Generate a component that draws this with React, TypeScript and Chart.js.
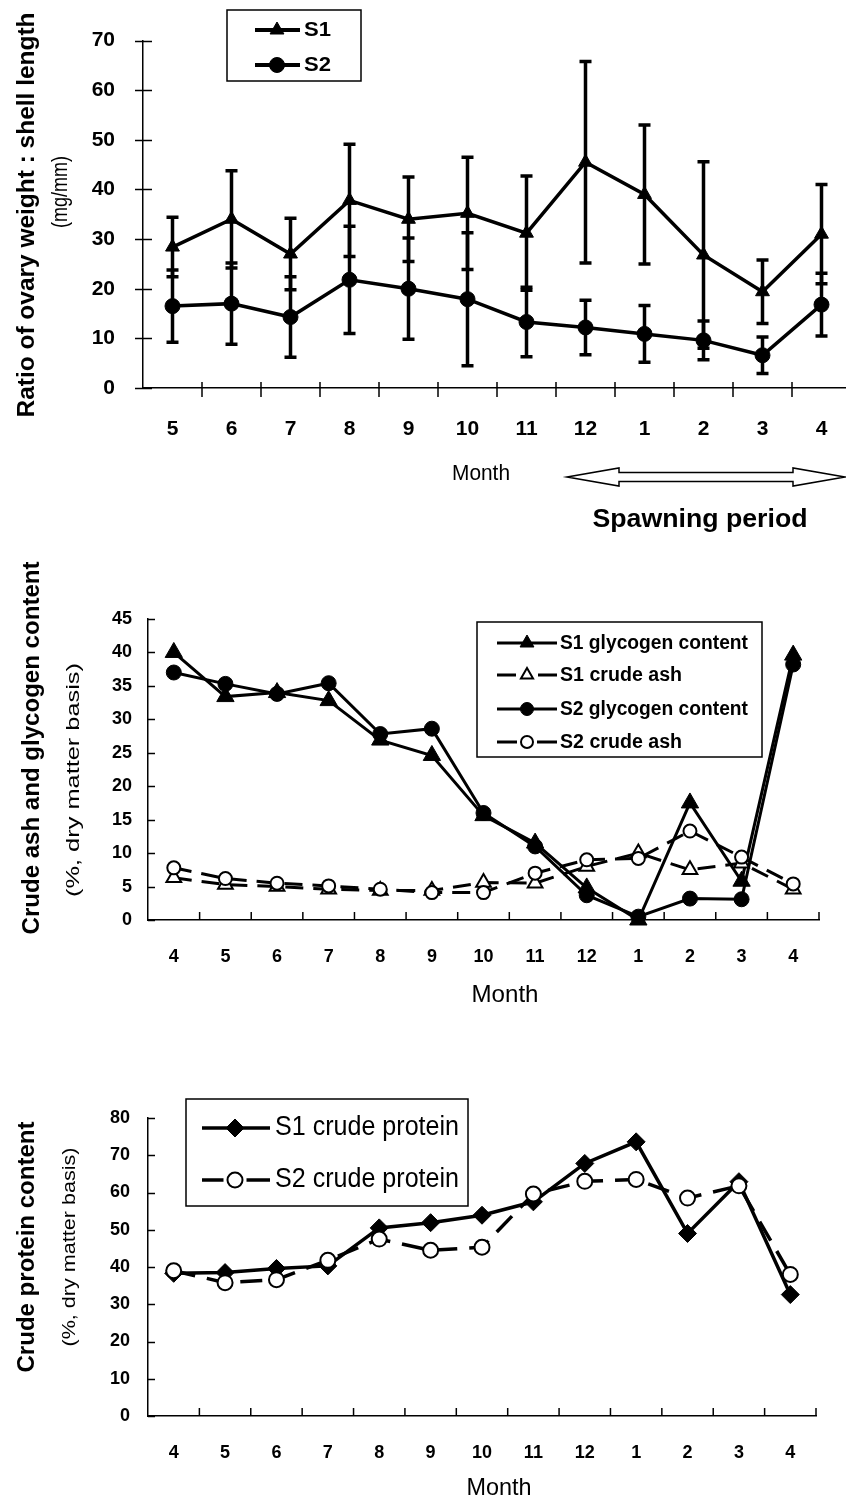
import React, { useEffect, useRef } from "react";
import { Chart, registerables } from "chart.js";

Chart.register(...registerables);

// ---------- DATA ----------
const monthsRatio = ["5", "6", "7", "8", "9", "10", "11", "12", "1", "2", "3", "4"];
const s1Ratio = [28.4, 34, 27, 37.8, 34, 35.2, 31.2, 45.5, 39, 26.8, 19.4, 31];
const s1RatioErr = [6, 9.8, 7.2, 11.3, 8.5, 11.3, 11.5, 20.3, 14, 18.8, 6.4, 10];
const s2Ratio = [16.5, 17, 14.3, 21.8, 20, 17.9, 13.3, 12.2, 10.9, 9.6, 6.6, 16.8];
const s2RatioErr = [7.3, 8.2, 8.1, 10.8, 10.2, 13.4, 7, 5.5, 5.7, 3.9, 3.7, 6.3];

const monthsYear = ["4", "5", "6", "7", "8", "9", "10", "11", "12", "1", "2", "3", "4"];
const s1Glycogen = [40, 33.4, 34, 32.8, 26.9, 24.6, 15.6, 11.5, 4.8, 0, 17.5, 5.8, 39.6];
const s1Ash = [6.3, 5.3, 5, 4.6, 4.4, 4.4, 5.6, 5.5, 8, 10, 7.5, 8.5, 4.6];
const s2Glycogen = [37, 35.3, 33.8, 35.4, 27.8, 28.6, 16, 11, 3.7, 0.5, 3.2, 3.1, 38.2];
const s2Ash = [7.8, 6.2, 5.5, 5.1, 4.6, 4.1, 4.1, 7, 9, 9.2, 13.3, 9.4, 5.4];

const s1Protein = [38.3, 38.5, 39.6, 40.3, 50.5, 51.9, 53.9, 57.5, 67.8, 73.6, 49, 62.9, 32.6];
const s2Protein = [39, 35.8, 36.6, 41.8, 47.5, 44.5, 45.3, 59.6, 63, 63.5, 58.5, 61.8, 38];

// ---------- FONTS ----------
const ARIAL = '"Liberation Sans", Arial, sans-serif';

// ---------- DRAW HELPERS ----------
type Txt = { text: string; x: number; y: number; font: string; width?: number; rot?: number; align?: CanvasTextAlign };

function drawText(ctx: CanvasRenderingContext2D, t: Txt) {
  ctx.save();
  ctx.translate(t.x, t.y);
  if (t.rot) ctx.rotate(t.rot);
  ctx.font = t.font;
  ctx.fillStyle = "#000";
  ctx.textBaseline = "middle";
  ctx.textAlign = t.align || "center";
  if (t.width) {
    const w = ctx.measureText(t.text).width;
    ctx.scale(t.width / w, 1);
  }
  ctx.fillText(t.text, 0, 0);
  ctx.restore();
}

function drawMarker(ctx: CanvasRenderingContext2D, style: string, x: number, y: number, r: number, fill: string, lw: number) {
  ctx.save();
  ctx.setLineDash([]);
  ctx.beginPath();
  if (style === "circle") {
    ctx.arc(x, y, r, 0, Math.PI * 2);
  } else if (style === "triangle") {
    for (let k = 0; k < 3; k++) {
      const a = (k * 2 * Math.PI) / 3;
      const px = x + Math.sin(a) * r;
      const py = y - Math.cos(a) * r;
      if (k === 0) ctx.moveTo(px, py);
      else ctx.lineTo(px, py);
    }
    ctx.closePath();
  } else {
    ctx.moveTo(x - r, y);
    ctx.lineTo(x, y - r);
    ctx.lineTo(x + r, y);
    ctx.lineTo(x, y + r);
    ctx.closePath();
  }
  ctx.fillStyle = fill;
  ctx.fill();
  ctx.lineWidth = lw;
  ctx.strokeStyle = "#000";
  ctx.stroke();
  ctx.restore();
}

type LegendItem = { label: string; y: number; dashed: boolean; style: string; fill: string; r: number; lw: number; mlw: number; tw: number };
type LegendSpec = { x: number; y: number; w: number; h: number; lineX1: number; lineX2: number; markX: number; textX: number; font: string; items: LegendItem[] };

function drawLegend(ctx: CanvasRenderingContext2D, L: LegendSpec) {
  ctx.save();
  ctx.fillStyle = "#fff";
  ctx.fillRect(L.x, L.y, L.w, L.h);
  ctx.strokeStyle = "#000";
  ctx.lineWidth = 1.5;
  ctx.strokeRect(L.x, L.y, L.w, L.h);
  for (const it of L.items) {
    ctx.beginPath();
    ctx.lineWidth = it.lw;
    if (it.dashed) {
      ctx.moveTo(L.lineX1, it.y);
      ctx.lineTo(L.markX - it.r - 4, it.y);
      ctx.moveTo(L.markX + it.r + 4, it.y);
      ctx.lineTo(L.lineX2, it.y);
    } else {
      ctx.moveTo(L.lineX1, it.y);
      ctx.lineTo(L.lineX2, it.y);
    }
    ctx.stroke();
    drawMarker(ctx, it.style, L.markX, it.y, it.r, it.fill, it.mlw);
    drawText(ctx, { text: it.label, x: L.textX, y: it.y, font: L.font, width: it.tw, align: "left" });
  }
  ctx.restore();
}

function drawYTicks(chart: any, outLen: number, inLen: number) {
  const ctx = chart.ctx as CanvasRenderingContext2D;
  const ys = chart.scales.y;
  const x0 = chart.chartArea.left;
  ctx.save();
  ctx.strokeStyle = "#000";
  ctx.lineWidth = 1.5;
  for (const t of ys.ticks) {
    const py = Math.round(ys.getPixelForValue(t.value)) + 0.5;
    ctx.beginPath();
    ctx.moveTo(x0 - outLen, py);
    ctx.lineTo(x0 + inLen, py);
    ctx.stroke();
  }
  ctx.restore();
}

function drawXTicks(chart: any, upLen: number, downLen: number) {
  const ctx = chart.ctx as CanvasRenderingContext2D;
  const xs = chart.scales.x;
  const yb = chart.chartArea.bottom;
  const n = xs.ticks.length;
  ctx.save();
  ctx.strokeStyle = "#000";
  ctx.lineWidth = 1.5;
  for (let i = 1; i <= n; i++) {
    const a = xs.getPixelForValue(i - 1);
    const px = i < n ? (a + xs.getPixelForValue(i)) / 2 : xs.right;
    ctx.beginPath();
    ctx.moveTo(px, yb - upLen);
    ctx.lineTo(px, yb + downLen);
    ctx.stroke();
  }
  ctx.restore();
}

function drawErrorBars(chart: any, di: number, vals: number[], errs: number[]) {
  const ctx = chart.ctx as CanvasRenderingContext2D;
  const ys = chart.scales.y;
  const meta = chart.getDatasetMeta(di);
  ctx.save();
  ctx.strokeStyle = "#000";
  ctx.lineWidth = 3.5;
  ctx.setLineDash([]);
  meta.data.forEach((pt: any, i: number) => {
    const x = pt.x;
    const yT = ys.getPixelForValue(vals[i] + errs[i]);
    const yB = ys.getPixelForValue(Math.max(0, vals[i] - errs[i]));
    ctx.beginPath();
    ctx.moveTo(x, yT);
    ctx.lineTo(x, yB);
    ctx.moveTo(x - 6, yT);
    ctx.lineTo(x + 6, yT);
    ctx.moveTo(x - 6, yB);
    ctx.lineTo(x + 6, yB);
    ctx.stroke();
  });
  ctx.restore();
}

function drawDoubleArrow(ctx: CanvasRenderingContext2D, x1: number, x2: number, y: number, hl: number, hh: number, sh: number) {
  ctx.save();
  ctx.beginPath();
  ctx.moveTo(x1, y);
  ctx.lineTo(x1 + hl, y - hh);
  ctx.lineTo(x1 + hl, y - sh);
  ctx.lineTo(x2 - hl, y - sh);
  ctx.lineTo(x2 - hl, y - hh);
  ctx.lineTo(x2, y);
  ctx.lineTo(x2 - hl, y + hh);
  ctx.lineTo(x2 - hl, y + sh);
  ctx.lineTo(x1 + hl, y + sh);
  ctx.lineTo(x1 + hl, y + hh);
  ctx.closePath();
  ctx.fillStyle = "#fff";
  ctx.fill();
  ctx.strokeStyle = "#000";
  ctx.lineWidth = 1.5;
  ctx.stroke();
  ctx.restore();
}

// ---------- OPTIONS ----------
function baseOptions(o: {
  yMax: number; step: number; yFont: any; xFont: any; yPad: number; xPad: number; yWidth: number; xHeight: number; padding: any;
}) {
  return {
    responsive: false,
    animation: false as const,
    events: [] as any[],
    layout: { padding: o.padding },
    plugins: { legend: { display: false }, tooltip: { enabled: false } },
    scales: {
      x: {
        type: "category" as const,
        offset: true,
        grid: { display: false, drawTicks: false },
        border: { display: true, color: "#000", width: 1.5 },
        ticks: { color: "#000", font: o.xFont, padding: o.xPad, maxRotation: 0, autoSkip: false },
        afterFit: (s: any) => { s.height = o.xHeight; },
      },
      y: {
        type: "linear" as const,
        min: 0,
        max: o.yMax,
        grid: { display: false, drawTicks: false },
        border: { display: true, color: "#000", width: 1.5 },
        ticks: { color: "#000", font: o.yFont, padding: o.yPad, stepSize: o.step },
        afterFit: (s: any) => { s.width = o.yWidth; },
      },
    },
  };
}

function lineDs(label: string, data: number[], style: string, r: number, fill: string, lw: number, dash: number[], mlw: number, order: number) {
  return {
    label,
    data,
    borderColor: "#000",
    backgroundColor: fill,
    borderWidth: lw,
    borderDash: dash,
    pointStyle: style,
    pointRadius: r,
    pointBackgroundColor: fill,
    pointBorderColor: "#000",
    pointBorderWidth: mlw,
    tension: 0,
    clip: false,
    order,
  };
}

// ---------- CHART CONFIGS ----------
function configRatio(): any {
  return {
    type: "line",
    data: {
      labels: monthsRatio,
      datasets: [
        lineDs("S1", s1Ratio, "triangle", 8, "#000", 3.5, [], 1, 0),
        lineDs("S2", s2Ratio, "circle", 7.5, "#000", 3.5, [], 1, 1),
      ],
    },
    options: baseOptions({
      yMax: 70, step: 10,
      yFont: { family: ARIAL, size: 21, weight: "bold" },
      xFont: { family: ARIAL, size: 21, weight: "bold" },
      yPad: 28, xPad: 29, yWidth: 143, xHeight: 152,
      padding: { top: 17, right: 7, left: 0, bottom: 0 },
    }),
    plugins: [
      {
        id: "decorRatio",
        afterDatasetsDraw(chart: any) {
          drawErrorBars(chart, 0, s1Ratio, s1RatioErr);
          drawErrorBars(chart, 1, s2Ratio, s2RatioErr);
        },
        afterDraw(chart: any) {
          const ctx = chart.ctx;
          drawYTicks(chart, 8, 9);
          drawXTicks(chart, 6, 9);
          drawText(ctx, { text: "Ratio of ovary weight : shell length", x: 27, y: 215, font: `bold 24px ${ARIAL}`, width: 405, rot: -Math.PI / 2 });
          drawText(ctx, { text: "(mg/mm)", x: 61, y: 192, font: `22px ${ARIAL}`, width: 72, rot: -Math.PI / 2 });
          drawText(ctx, { text: "Month", x: 481, y: 474, font: `22px ${ARIAL}`, width: 58 });
          drawDoubleArrow(ctx, 567, 845, 477, 52, 9, 4.5);
          drawText(ctx, { text: "Spawning period", x: 700, y: 520, font: `bold 26px ${ARIAL}`, width: 215 });
          drawLegend(ctx, {
            x: 227, y: 10, w: 134, h: 71, lineX1: 255, lineX2: 300, markX: 277, textX: 304,
            font: `bold 21px ${ARIAL}`,
            items: [
              { label: "S1", y: 30, dashed: false, style: "triangle", fill: "#000", r: 8, lw: 4, mlw: 1, tw: 27 },
              { label: "S2", y: 65, dashed: false, style: "circle", fill: "#000", r: 7.5, lw: 4, mlw: 1, tw: 27 },
            ],
          });
        },
      },
    ],
  };
}

function configAsh(): any {
  return {
    type: "line",
    data: {
      labels: monthsYear,
      datasets: [
        lineDs("S1 glycogen content", s1Glycogen, "triangle", 10, "#000", 3, [], 1, 2),
        lineDs("S1 crude ash", s1Ash, "triangle", 8.5, "#fff", 3, [18, 10], 2, 1),
        lineDs("S2 glycogen content", s2Glycogen, "circle", 7.5, "#000", 3, [], 1, 2),
        lineDs("S2 crude ash", s2Ash, "circle", 6.5, "#fff", 3, [18, 10], 2, 0),
      ],
    },
    options: baseOptions({
      yMax: 45, step: 5,
      yFont: { family: ARIAL, size: 18, weight: "bold" },
      xFont: { family: ARIAL, size: 18, weight: "bold" },
      yPad: 16, xPad: 26, yWidth: 148, xHeight: 100,
      padding: { top: 79, right: 27, left: 0, bottom: 0 },
    }),
    plugins: [
      {
        id: "decorAsh",
        afterDraw(chart: any) {
          const ctx = chart.ctx;
          drawYTicks(chart, 0, 7);
          drawXTicks(chart, 8, 0);
          drawText(ctx, { text: "Crude ash and glycogen content", x: 32, y: 208, font: `bold 24px ${ARIAL}`, width: 373, rot: -Math.PI / 2 });
          drawText(ctx, { text: "(%, dry matter basis)", x: 74, y: 240, font: `19px ${ARIAL}`, width: 234, rot: -Math.PI / 2 });
          drawText(ctx, { text: "Month", x: 505, y: 455, font: `24px ${ARIAL}`, width: 67 });
          drawLegend(ctx, {
            x: 477, y: 82, w: 285, h: 135, lineX1: 497, lineX2: 557, markX: 527, textX: 560,
            font: `bold 20px ${ARIAL}`,
            items: [
              { label: "S1 glycogen content", y: 103, dashed: false, style: "triangle", fill: "#000", r: 8, lw: 3, mlw: 1, tw: 188 },
              { label: "S1 crude ash", y: 135, dashed: true, style: "triangle", fill: "#fff", r: 7, lw: 3, mlw: 2, tw: 122 },
              { label: "S2 glycogen content", y: 169, dashed: false, style: "circle", fill: "#000", r: 6.5, lw: 3, mlw: 1, tw: 188 },
              { label: "S2 crude ash", y: 202, dashed: true, style: "circle", fill: "#fff", r: 6, lw: 3, mlw: 2, tw: 122 },
            ],
          });
        },
      },
    ],
  };
}

function configProtein(): any {
  return {
    type: "line",
    data: {
      labels: monthsYear,
      datasets: [
        lineDs("S1 crude protein", s1Protein, "rectRot", 9, "#000", 3.5, [], 1, 1),
        lineDs("S2 crude protein", s2Protein, "circle", 7.5, "#fff", 3.5, [22, 12], 2, 0),
      ],
    },
    options: baseOptions({
      yMax: 80, step: 10,
      yFont: { family: ARIAL, size: 18, weight: "bold" },
      xFont: { family: ARIAL, size: 18, weight: "bold" },
      yPad: 18, xPad: 26, yWidth: 148, xHeight: 87,
      padding: { top: 98, right: 30, left: 0, bottom: 0 },
    }),
    plugins: [
      {
        id: "decorProtein",
        afterDraw(chart: any) {
          const ctx = chart.ctx;
          drawYTicks(chart, 0, 7);
          drawXTicks(chart, 8, 0);
          drawText(ctx, { text: "Crude protein content", x: 27, y: 227, font: `bold 24px ${ARIAL}`, width: 251, rot: -Math.PI / 2 });
          drawText(ctx, { text: "(%, dry matter basis)", x: 70, y: 227, font: `18px ${ARIAL}`, width: 199, rot: -Math.PI / 2 });
          drawText(ctx, { text: "Month", x: 499, y: 468, font: `24px ${ARIAL}`, width: 65 });
          drawLegend(ctx, {
            x: 186, y: 79, w: 282, h: 107, lineX1: 202, lineX2: 270, markX: 235, textX: 275,
            font: `27px ${ARIAL}`,
            items: [
              { label: "S1 crude protein", y: 108, dashed: false, style: "rectRot", fill: "#000", r: 9, lw: 3.5, mlw: 1, tw: 184 },
              { label: "S2 crude protein", y: 160, dashed: true, style: "circle", fill: "#fff", r: 7.5, lw: 3.5, mlw: 2, tw: 184 },
            ],
          });
        },
      },
    ],
  };
}

// ---------- COMPONENTS ----------
function ChartCanvas({ make, top, width, height }: { make: () => any; top: number; width: number; height: number }) {
  const ref = useRef<HTMLCanvasElement>(null);
  useEffect(() => {
    const chart = new Chart(ref.current as HTMLCanvasElement, make());
    return () => chart.destroy();
  }, []);
  return (
    <div style={{ position: "absolute", left: 0, top, width, height }}>
      <canvas ref={ref} width={width} height={height} style={{ width, height, display: "block" }} />
    </div>
  );
}

export default function App() {
  return (
    <div style={{ position: "absolute", left: 0, top: 0, width: 846, height: 1503, overflow: "hidden", background: "#fff" }}>
      <ChartCanvas make={configRatio} top={0} width={860} height={540} />
      <ChartCanvas make={configAsh} top={540} width={846} height={480} />
      <ChartCanvas make={configProtein} top={1020} width={846} height={483} />
    </div>
  );
}
